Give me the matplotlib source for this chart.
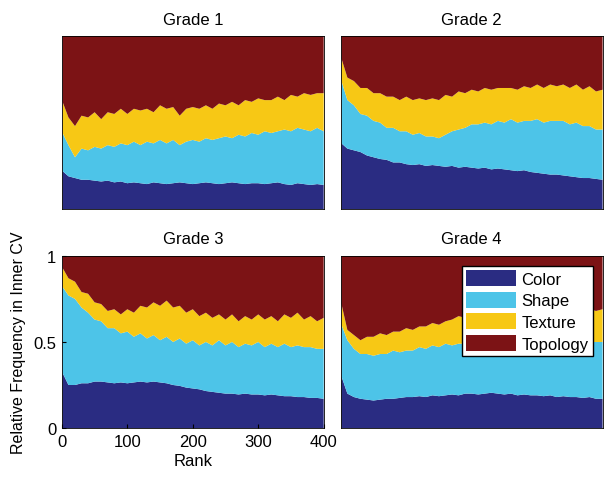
import numpy as np
import matplotlib
matplotlib.use('Agg')
import matplotlib.pyplot as plt
from matplotlib.patches import Patch

plt.rcParams['font.family'] = 'Liberation Sans'
plt.rcParams['font.size'] = 12

# rank positions of the read-off points
ranks = [1] + list(range(10, 401, 10))

# cumulative shares: top of Color, top of Shape, top of Texture
# (Topology fills the rest up to 1)
g1_color = [0.22, 0.19, 0.18, 0.17, 0.17, 0.165, 0.16, 0.165, 0.155, 0.16, 0.15,
            0.155, 0.15, 0.145, 0.155, 0.15, 0.145, 0.15, 0.155, 0.15, 0.145,
            0.15, 0.155, 0.15, 0.145, 0.15, 0.155, 0.15, 0.145, 0.15, 0.15,
            0.145, 0.15, 0.155, 0.145, 0.14, 0.15, 0.145, 0.14, 0.145, 0.14]
g1_shape = [0.44, 0.37, 0.30, 0.35, 0.34, 0.36, 0.35, 0.37, 0.36, 0.38, 0.37,
            0.39, 0.37, 0.39, 0.38, 0.40, 0.38, 0.40, 0.37, 0.39, 0.40,
            0.39, 0.41, 0.40, 0.41, 0.42, 0.41, 0.43, 0.42, 0.44, 0.43,
            0.45, 0.44, 0.45, 0.46, 0.45, 0.47, 0.46, 0.45, 0.47, 0.45]
g1_texture = [0.62, 0.53, 0.48, 0.54, 0.53, 0.56, 0.52, 0.56, 0.55, 0.58, 0.55,
              0.58, 0.57, 0.58, 0.56, 0.60, 0.58, 0.59, 0.54, 0.58, 0.59,
              0.58, 0.60, 0.58, 0.61, 0.60, 0.62, 0.60, 0.63, 0.62, 0.64,
              0.63, 0.63, 0.65, 0.63, 0.66, 0.65, 0.67, 0.66, 0.67, 0.67]

g2_color = [0.38, 0.35, 0.34, 0.33, 0.31, 0.30, 0.29, 0.285, 0.27, 0.27, 0.26,
            0.255, 0.26, 0.25, 0.255, 0.25, 0.245, 0.25, 0.24, 0.245, 0.24,
            0.235, 0.24, 0.23, 0.235, 0.23, 0.225, 0.22, 0.225, 0.215, 0.21,
            0.205, 0.20, 0.20, 0.195, 0.19, 0.185, 0.18, 0.18, 0.175, 0.17]
g2_shape = [0.74, 0.63, 0.60, 0.55, 0.54, 0.51, 0.50, 0.47, 0.47, 0.45, 0.45,
            0.43, 0.44, 0.42, 0.42, 0.41, 0.43, 0.45, 0.46, 0.47, 0.49,
            0.49, 0.50, 0.49, 0.51, 0.50, 0.52, 0.50, 0.51, 0.51, 0.52,
            0.50, 0.51, 0.51, 0.51, 0.49, 0.50, 0.48, 0.48, 0.46, 0.46]
g2_texture = [0.87, 0.76, 0.74, 0.70, 0.70, 0.67, 0.67, 0.65, 0.65, 0.63, 0.65,
              0.63, 0.64, 0.63, 0.64, 0.63, 0.66, 0.65, 0.68, 0.67, 0.69,
              0.68, 0.70, 0.69, 0.70, 0.70, 0.70, 0.69, 0.71, 0.70, 0.72,
              0.70, 0.72, 0.71, 0.72, 0.70, 0.72, 0.69, 0.71, 0.68, 0.69]

g3_color = [0.32, 0.25, 0.25, 0.26, 0.26, 0.27, 0.27, 0.265, 0.26, 0.265, 0.26,
            0.265, 0.27, 0.265, 0.27, 0.265, 0.26, 0.25, 0.245, 0.235, 0.23,
            0.225, 0.215, 0.21, 0.205, 0.20, 0.20, 0.195, 0.20, 0.195, 0.195,
            0.19, 0.195, 0.19, 0.185, 0.185, 0.18, 0.18, 0.175, 0.175, 0.17]
g3_shape = [0.82, 0.77, 0.75, 0.70, 0.67, 0.63, 0.62, 0.58, 0.58, 0.55, 0.56,
            0.53, 0.55, 0.52, 0.54, 0.51, 0.53, 0.50, 0.52, 0.49, 0.51,
            0.48, 0.50, 0.48, 0.51, 0.48, 0.50, 0.47, 0.49, 0.48, 0.50,
            0.47, 0.49, 0.47, 0.49, 0.47, 0.48, 0.47, 0.47, 0.46, 0.46]
g3_texture = [0.93, 0.87, 0.85, 0.79, 0.78, 0.73, 0.72, 0.68, 0.69, 0.66, 0.69,
              0.67, 0.71, 0.70, 0.73, 0.71, 0.74, 0.70, 0.71, 0.67, 0.69,
              0.65, 0.67, 0.64, 0.66, 0.63, 0.66, 0.62, 0.65, 0.63, 0.66,
              0.63, 0.65, 0.62, 0.66, 0.64, 0.67, 0.63, 0.65, 0.62, 0.64]

g4_color = [0.30, 0.20, 0.18, 0.17, 0.165, 0.16, 0.165, 0.17, 0.17, 0.175, 0.18,
            0.18, 0.185, 0.18, 0.19, 0.185, 0.19, 0.195, 0.19, 0.20, 0.20,
            0.195, 0.20, 0.205, 0.20, 0.195, 0.20, 0.19, 0.195, 0.19, 0.19,
            0.185, 0.19, 0.18, 0.185, 0.18, 0.18, 0.175, 0.18, 0.17, 0.17]
g4_shape = [0.60, 0.51, 0.46, 0.43, 0.43, 0.42, 0.43, 0.43, 0.45, 0.44, 0.45,
            0.45, 0.47, 0.46, 0.48, 0.47, 0.49, 0.48, 0.49, 0.49, 0.50,
            0.49, 0.51, 0.50, 0.50, 0.49, 0.51, 0.50, 0.50, 0.49, 0.51,
            0.50, 0.50, 0.49, 0.51, 0.50, 0.50, 0.49, 0.50, 0.50, 0.50]
g4_texture = [0.72, 0.57, 0.54, 0.51, 0.53, 0.53, 0.55, 0.54, 0.56, 0.56, 0.58,
              0.57, 0.59, 0.59, 0.61, 0.60, 0.62, 0.63, 0.65, 0.64, 0.66,
              0.65, 0.67, 0.66, 0.67, 0.66, 0.68, 0.67, 0.69, 0.67, 0.68,
              0.67, 0.69, 0.67, 0.68, 0.67, 0.69, 0.67, 0.69, 0.68, 0.69]

grades = ['Grade 1', 'Grade 2', 'Grade 3', 'Grade 4']
levels = [
    (g1_color, g1_shape, g1_texture),
    (g2_color, g2_shape, g2_texture),
    (g3_color, g3_shape, g3_texture),
    (g4_color, g4_shape, g4_texture),
]
categories = ['Color', 'Shape', 'Texture', 'Topology']
colors = ['#2a2c82', '#4dc4e8', '#f7c815', '#7c1315']

# axes boxes in figure fractions [left, bottom, width, height]
positions = [
    [0.101, 0.563, 0.427, 0.360],
    [0.556, 0.563, 0.427, 0.360],
    [0.101, 0.108, 0.427, 0.358],
    [0.556, 0.108, 0.427, 0.358],
]

fig = plt.figure(figsize=(6.13, 4.81), dpi=100)

for i, (name, lv) in enumerate(zip(grades, levels)):
    ax = fig.add_axes(positions[i])
    cum = np.vstack([np.zeros(len(ranks))] + [np.array(v) for v in lv] + [np.ones(len(ranks))])
    layers = np.diff(cum, axis=0)
    ax.stackplot(ranks, layers, colors=colors, linewidth=0)
    ax.set_xlim(0, 400)
    ax.set_ylim(0, 1)
    ax.set_title(name, fontsize=12, pad=9)
    for s in ax.spines.values():
        s.set_linewidth(0.6)
    if i == 2:
        ax.set_xticks([0, 100, 200, 300, 400])
        ax.set_yticks([0, 0.5, 1])
        ax.set_yticklabels(['0', '0.5', '1'])
        ax.tick_params(direction='in', length=3, labelsize=12, pad=4)
        ax.set_xlabel('Rank', fontsize=12, labelpad=3)
        ax.set_ylabel('Relative Frequency in Inner CV', fontsize=11.5, labelpad=5)
    else:
        ax.set_xticks([])
        ax.set_yticks([])
    if i == 3:
        handles = [Patch(facecolor=c, edgecolor='none', label=l) for c, l in zip(colors, categories)]
        ax.legend(handles=handles, loc='upper right', fontsize=12, frameon=True,
                  fancybox=False, edgecolor='black', framealpha=1,
                  handlelength=3.0, handleheight=1.1, handletextpad=0.3,
                  labelspacing=0.3, borderpad=0.25, borderaxespad=0.6)

fig.savefig('out.png', dpi=100)
